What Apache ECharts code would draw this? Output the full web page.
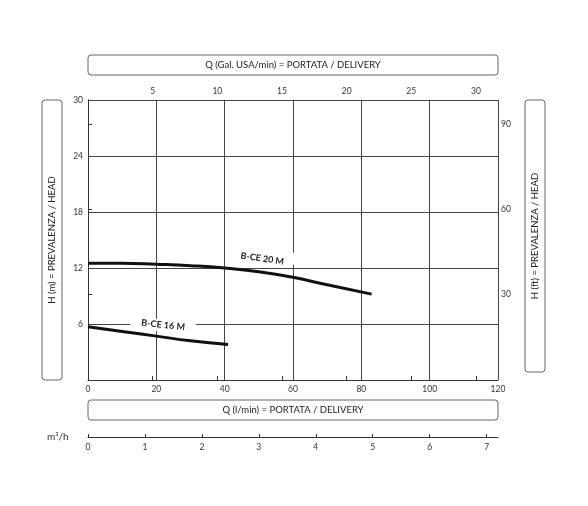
<!DOCTYPE html>
<html>
<head>
<meta charset="utf-8">
<script src="https://cdn.jsdelivr.net/npm/echarts@6/dist/echarts.min.js"></script>
<style>html,body{margin:0;padding:0;background:#fff}#c{width:588px;height:506px}</style>
</head>
<body>
<div id="c"></div>
<script>
// Q (l/min) vs H (m)
var ce20 = [[0, 12.5], [10, 12.5], [20, 12.4], [30, 12.25], [40, 12.0], [50, 11.6], [60, 11.0], [70, 10.2], [83, 9.2]];
var ce16 = [[0, 5.7], [10, 5.2], [20, 4.7], [30, 4.2], [41, 3.8]];
var lpmMax = 120, mMax = 30;
var galMax = 120 / 3.785, ftMax = 30 * 3.2808, m3hMax = 7.2;

var font = 'Lato';
var chart = echarts.init(document.getElementById('c'));

function box(x, y, w, h, text, rot) {
    return [{
        type: 'rect', shape: {x: x, y: y, width: w, height: h, r: 3},
        style: {fill: '#fff', stroke: '#666', lineWidth: 1}
    }, {
        type: 'text', x: x + w / 2, y: y + h / 2, rotation: rot || 0,
        style: {text: text, fill: '#222', font: '9.5px ' + font, align: 'center', verticalAlign: 'middle'}
    }];
}

function hideZero(v) { return v == 0 ? '' : v; }

var option = {
    animation: false,
    grid: [
        {left: 88, top: 100, width: 410, height: 280},
        {left: 88, top: 437, width: 410, height: 0}
    ],
    xAxis: [{
        gridIndex: 0, type: 'value', min: 0, max: lpmMax, interval: 20,
        axisLine: {lineStyle: {color: '#333'}}, axisTick: {show: false},
        axisLabel: {color: '#333', fontSize: 8.5, fontFamily: font, margin: 5},
        splitLine: {lineStyle: {color: '#444', width: 1}}
    }, {
        gridIndex: 0, type: 'value', position: 'top', min: 0, max: galMax, interval: 5,
        axisLine: {show: false}, axisTick: {show: true, length: 4, lineStyle: {color: '#333'}},
        axisLabel: {color: '#333', fontSize: 8.5, fontFamily: font, margin: 4, formatter: hideZero, showMaxLabel: false},
        splitLine: {show: false}
    }, {
        gridIndex: 1, type: 'value', min: 0, max: m3hMax, interval: 1,
        axisLine: {lineStyle: {color: '#333'}}, axisTick: {show: true, length: 3, inside: true},
        axisLabel: {color: '#333', fontSize: 8.5, fontFamily: font, margin: 6, showMaxLabel: false},
        splitLine: {show: false}
    }],
    yAxis: [{
        gridIndex: 0, type: 'value', min: 0, max: mMax, interval: 6,
        axisLine: {show: true, lineStyle: {color: '#333'}}, axisTick: {show: false},
        axisLabel: {color: '#333', fontSize: 8.5, fontFamily: font, margin: 5, formatter: hideZero},
        splitLine: {lineStyle: {color: '#444', width: 1}}
    }, {
        gridIndex: 0, type: 'value', position: 'right', min: 0, max: ftMax, interval: 30,
        axisLine: {show: true, lineStyle: {color: '#333'}}, axisTick: {show: true, length: 4},
        axisLabel: {color: '#333', fontSize: 8.5, fontFamily: font, margin: 3, formatter: hideZero, showMaxLabel: false},
        splitLine: {show: false}
    }, {
        gridIndex: 1, type: 'value', show: false
    }],
    graphic: [].concat(
        box(88, 55, 410, 20, 'Q (Gal. USA/min) = PORTATA / DELIVERY'),
        box(88, 400, 410, 20, 'Q (l/min) = PORTATA / DELIVERY'),
        box(42, 100, 20, 280, 'H (m) = PREVALENZA / HEAD', Math.PI / 2),
        box(525, 100, 20, 272, 'H (ft) = PREVALENZA / HEAD', Math.PI / 2),
        [{type: 'text', x: 47, y: 432, style: {text: 'm³/h', fill: '#333', font: '10px ' + font}}]
    ),
    series: [{
        name: 'B-CE 20 M', type: 'line', xAxisIndex: 0, yAxisIndex: 0, data: ce20,
        smooth: true, showSymbol: false, lineStyle: {color: '#111', width: 3},
        markPoint: {
            symbol: 'rect', symbolSize: [66, 12], itemStyle: {color: '#fff'},
            data: [{coord: [51, 13.0], label: {show: true, formatter: 'B-CE 20 M', rotate: -8,
                color: '#222', fontSize: 9, fontWeight: 'bold', fontFamily: font}}]
        }
    }, {
        name: 'B-CE 16 M', type: 'line', xAxisIndex: 0, yAxisIndex: 0, data: ce16,
        smooth: true, showSymbol: false, lineStyle: {color: '#111', width: 3},
        markPoint: {
            symbol: 'rect', symbolSize: [66, 12], itemStyle: {color: '#fff'},
            data: [{coord: [22, 5.9], label: {show: true, formatter: 'B-CE 16 M', rotate: -6,
                color: '#222', fontSize: 9, fontWeight: 'bold', fontFamily: font}}]
        }
    }]
};
chart.setOption(option);
</script>
</body>
</html>
